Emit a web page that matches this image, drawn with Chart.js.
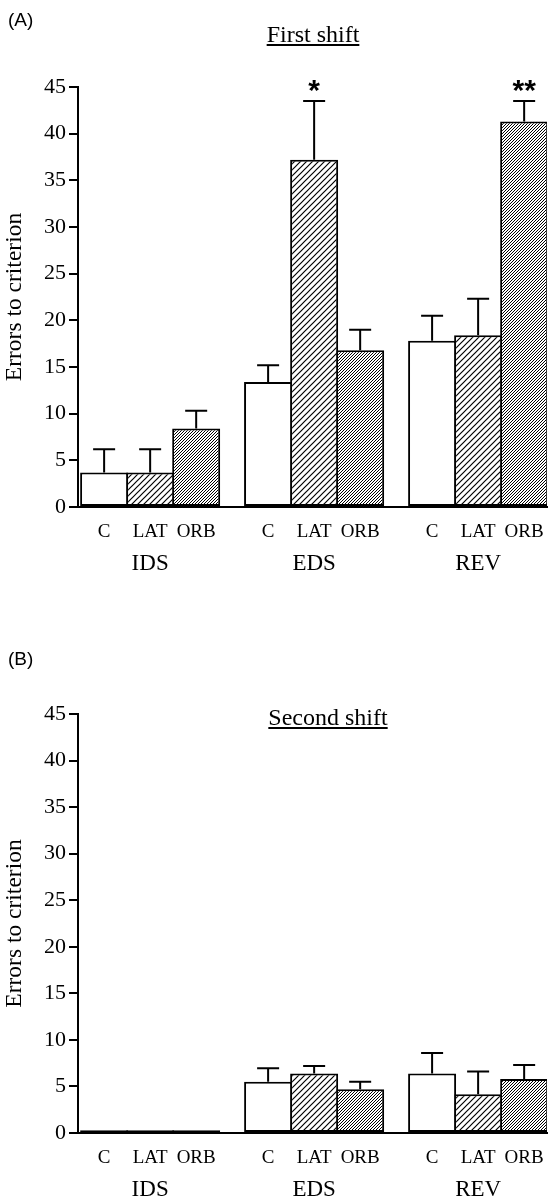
<!DOCTYPE html>
<html><head><meta charset="utf-8">
<script src="https://cdn.jsdelivr.net/npm/chart.js@4.4.0/dist/chart.umd.min.js"></script>
<style>
html,body{margin:0;padding:0;background:#fff;}
body{width:556px;height:1199px;overflow:hidden;position:relative;}
canvas{position:absolute;left:0;}
.lab{position:absolute;font-family:"Liberation Sans",Arial,sans-serif;font-size:19px;color:#000;line-height:22px;}
.ttl{position:absolute;font-family:"Liberation Serif","Times New Roman",serif;font-size:24px;line-height:26px;text-decoration:underline;color:#000;white-space:nowrap;transform:translateX(-50%);z-index:2;}
</style></head>
<body>
<canvas id="c1" width="556" height="600" style="top:0"></canvas>
<canvas id="c2" width="556" height="599" style="top:600px"></canvas>
<div class="lab" style="left:8px;top:9px">(A)</div>
<div class="ttl" style="left:313px;top:21px">First shift</div>
<div class="lab" style="left:8px;top:648px">(B)</div>
<div class="ttl" style="left:328px;top:704px">Second shift</div>
<script>
// ---- data ----
const groups = ['IDS', 'EDS', 'REV'];
const treatments = ['C', 'LAT', 'ORB'];
const yTickValues = [0, 5, 10, 15, 20, 25, 30, 35, 40, 45];

const firstC = [3.7, 13.4, 17.8];
const firstLAT = [3.7, 37.2, 18.4];
const firstORB = [8.4, 16.8, 41.3];
const firstCErr = [2.5, 1.8, 2.7];
const firstLATErr = [2.5, 6.3, 3.9];
const firstORBErr = [1.9, 2.2, 2.2];
const firstCSig = ['', '', ''];
const firstLATSig = ['', '*', ''];
const firstORBSig = ['', '', '**'];

const secondC = [0.3, 5.5, 6.4];
const secondLAT = [0.3, 6.4, 4.15];
const secondORB = [0.3, 4.7, 5.8];
const secondCErr = [0, 1.45, 2.2];
const secondLATErr = [0, 0.8, 2.45];
const secondORBErr = [0, 0.8, 1.5];
const secondCSig = ['', '', ''];
const secondLATSig = ['', '', ''];
const secondORBSig = ['', '', ''];

// ---- styles ----
const SERIF = '"Liberation Serif", "Times New Roman", serif';
Chart.defaults.font.family = SERIF;
Chart.defaults.color = '#000';

function hatch(s, lw) {
  const c = document.createElement('canvas');
  c.width = s; c.height = s;
  const g = c.getContext('2d');
  g.fillStyle = '#fff'; g.fillRect(0, 0, s, s);
  g.strokeStyle = '#000'; g.lineWidth = lw;
  g.beginPath();
  g.moveTo(-1, s + 1); g.lineTo(s + 1, -1);
  g.moveTo(-1, 1); g.lineTo(1, -1);
  g.moveTo(s - 1, s + 1); g.lineTo(s + 1, s - 1);
  g.stroke();
  return g.createPattern(c, 'repeat');
}
const fills = ['#ffffff', hatch(6, 1.2), hatch(3, 1.0)];

const annot = {
  id: 'annot',
  afterDatasetsDraw(chart) {
    const {ctx, chartArea, scales: {y}} = chart;
    ctx.save();
    chart.data.datasets.forEach((ds, i) => {
      const meta = chart.getDatasetMeta(i);
      meta.data.forEach((el, j) => {
        const v = ds.data[j].y, e = ds.err[j];
        const yTop = y.getPixelForValue(v + e);
        if (e > 0) {
          ctx.strokeStyle = '#000'; ctx.lineWidth = 2;
          ctx.beginPath();
          ctx.moveTo(el.x, el.y); ctx.lineTo(el.x, yTop);
          ctx.moveTo(el.x - 11, yTop); ctx.lineTo(el.x + 11, yTop);
          ctx.stroke();
        }
        if (ds.sig[j]) {
          ctx.fillStyle = '#000';
          ctx.font = 'bold 30px "Liberation Sans", Arial, sans-serif';
          ctx.textAlign = 'center'; ctx.textBaseline = 'alphabetic';
          ctx.fillText(ds.sig[j], el.x, yTop - 1);
        }
        ctx.fillStyle = '#000';
        ctx.font = '19px ' + SERIF;
        ctx.textAlign = 'center'; ctx.textBaseline = 'middle';
        ctx.fillText(ds.label, el.x, chartArea.bottom + 25);
      });
    });
    ctx.restore();
  }
};

function makeChart(id, means, errs, sigs, areaTop, areaBottom, H) {
  const datasets = treatments.map((t, i) => ({
    label: t,
    data: groups.map((g, j) => ({x: j, y: means[i][j]})),
    err: errs[i],
    sig: sigs[i],
    backgroundColor: fills[i],
    borderColor: '#000',
    borderWidth: 2,
    borderSkipped: false,
    categoryPercentage: 0.842,
    barPercentage: 1.043
  }));
  return new Chart(document.getElementById(id), {
    type: 'bar',
    data: {datasets},
    plugins: [annot],
    options: {
      responsive: false,
      devicePixelRatio: 1,
      animation: false,
      layout: {padding: {top: areaTop, right: 9, left: 0, bottom: 0}},
      plugins: {legend: {display: false}, tooltip: {enabled: false}, title: {display: false}},
      scales: {
        x: {
          type: 'linear', min: -0.44, max: 2.42, offset: false,
          afterBuildTicks: s => { s.ticks = groups.map((g, i) => ({value: i})); },
          afterFit: s => { s.height = H - areaBottom; },
          grid: {display: false, drawTicks: false},
          border: {display: true, color: '#000', width: 2},
          ticks: {color: '#000', font: {size: 23, family: SERIF}, padding: 43, autoSkip: false, maxRotation: 0,
                  callback: v => groups[v] !== undefined ? groups[v] : ''}
        },
        y: {
          min: 0, max: 45,
          afterBuildTicks: s => { s.ticks = yTickValues.map(v => ({value: v})); },
          afterFit: s => { s.width = 78; },
          grid: {display: true, drawOnChartArea: false, drawTicks: true, tickLength: 9, color: '#000', lineWidth: 2},
          border: {display: true, color: '#000', width: 2},
          ticks: {color: '#000', font: {size: 22, family: SERIF}, padding: 3},
          title: {display: true, text: 'Errors to criterion', color: '#000', font: {size: 23.5, family: SERIF}, padding: {top: 1, bottom: 0}}
        }
      }
    }
  });
}

makeChart('c1', [firstC, firstLAT, firstORB], [firstCErr, firstLATErr, firstORBErr],
          [firstCSig, firstLATSig, firstORBSig], 87, 507, 600);
makeChart('c2', [secondC, secondLAT, secondORB], [secondCErr, secondLATErr, secondORBErr],
          [secondCSig, secondLATSig, secondORBSig], 114, 533, 599);
</script>
</body></html>
